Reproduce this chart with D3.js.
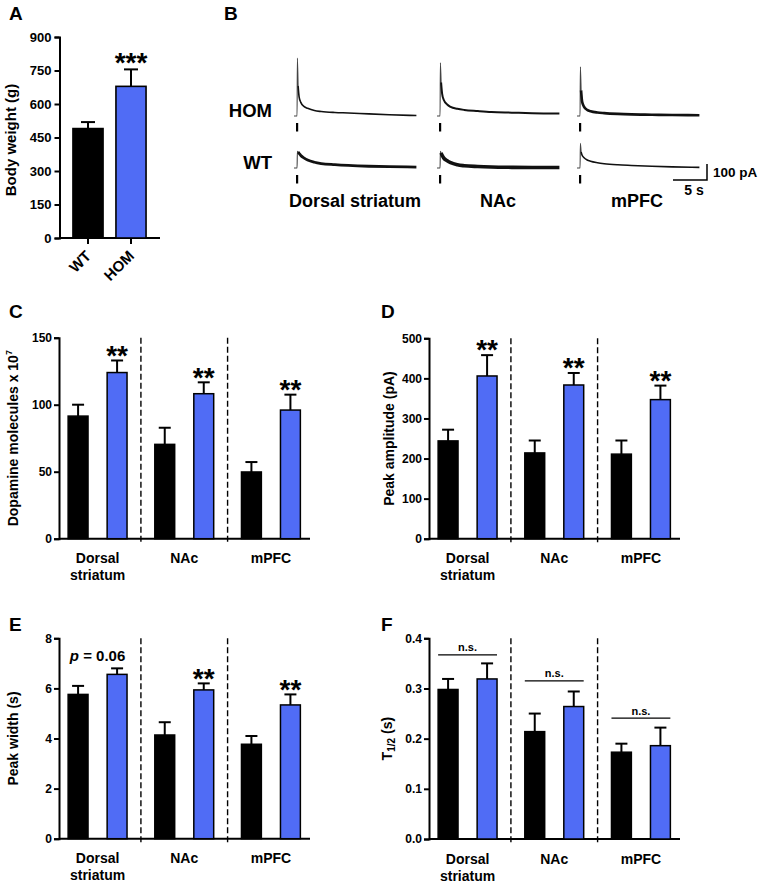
<!DOCTYPE html>
<html><head><meta charset="utf-8">
<script src="https://cdn.jsdelivr.net/npm/d3@7"></script>
<style>
body{margin:0;background:#fff}
text{font-family:"Liberation Sans",Arial,Helvetica,sans-serif;font-weight:bold;fill:#000}
</style></head>
<body><svg id="c" width="763" height="883"></svg>
<script>
// ---------- DATA ----------
const genotypes = ["WT", "HOM"];
const regions = ["Dorsal striatum", "NAc", "mPFC"];
const regionLines = [["Dorsal", "striatum"], ["NAc"], ["mPFC"]];

// Panel A
const bodyWeightMean = [490, 679];
const bodyWeightSem = [29, 76];
const bodyWeightTicks = [0, 150, 300, 450, 600, 750, 900];

// Panel B traces (time s, current pA)
const traceTime = [0, 0.45, 0.5, 0.6, 0.75, 1, 1.5, 2, 3, 4, 6, 8, 11, 14, 18];
const homDS   = [0, 0, 362, 190, 120, 85, 58, 48, 34, 28, 22, 19, 13, 8, 3];
const homNAc  = [0, 0, 333, 210, 140, 100, 72, 57, 45, 38, 31, 25, 21, 17, 15];
const homMPFC = [0, 0, 308, 160, 90, 60, 38, 30, 22, 18, 13, 10, 8, 6, 5];
const wtDS    = [0, 0, 104, 100, 92, 78, 62, 50, 36, 28, 21, 16, 11, 8, 6];
const wtNAc   = [0, 0, 104, 95, 80, 62, 45, 33, 20, 14, 9, 6, 4, 3, 3];
const wtMPFC  = [0, 0, 154, 100, 80, 66, 50, 42, 33, 27, 20, 16, 11, 7, 4];

// Panel C
const dopamineWT = [91.5, 70.4, 49.8];
const dopamineWTsem = [8.5, 12.4, 7.4];
const dopamineHOM = [124, 108.2, 96];
const dopamineHOMsem = [9, 8.5, 11.5];
const dopamineTicks = [0, 50, 100, 150];

// Panel D
const amplitudeWT = [244, 214, 211];
const amplitudeWTsem = [28, 31, 34];
const amplitudeHOM = [406, 383.5, 347];
const amplitudeHOMsem = [52, 30, 35];
const amplitudeTicks = [0, 100, 200, 300, 400, 500];

// Panel E
const widthWT = [5.76, 4.14, 3.77];
const widthWTsem = [0.34, 0.51, 0.33];
const widthHOM = [6.56, 5.94, 5.34];
const widthHOMsem = [0.24, 0.26, 0.42];
const widthTicks = [0, 2, 4, 6, 8];

// Panel F
const halfWT = [0.298, 0.214, 0.173];
const halfWTsem = [0.021, 0.036, 0.017];
const halfHOM = [0.319, 0.264, 0.186];
const halfHOMsem = [0.031, 0.030, 0.036];
const halfTicks = [0, 0.1, 0.2, 0.3, 0.4];
const halfNsLevel = [0.367, 0.315, 0.241];

const sigC = ["**", "**", "**"];
const sigD = ["**", "**", "**"];
const sigE = ["p = 0.06", "**", "**"];

const BLUE = "#506cf5";
const svg = d3.select("#c");
svg.append("rect").attr("width", 763).attr("height", 883).attr("fill", "#fff");

function panelLetter(t, x, y) {
  svg.append("text").attr("x", x).attr("y", y).attr("font-size", 19).text(t);
}
function stars(g, txt, x, yc, fs) {
  g.append("text").attr("x", x).attr("y", yc + fs * 0.58).attr("text-anchor", "middle")
    .attr("font-size", fs).text(txt);
}

// ---------- PANEL A ----------
(function () {
  const g = svg.append("g");
  const y = d3.scaleLinear().domain([0, 900]).range([238, 37]);
  const x = d3.scaleBand().domain(genotypes).range([59, 160]).paddingInner(0.3).paddingOuter(0.3245);
  const ax = g.append("g").attr("transform", "translate(59.5,0)")
    .call(d3.axisLeft(y).tickValues(bodyWeightTicks).tickSize(5).tickPadding(3));
  ax.select(".domain").attr("stroke-width", 2);
  ax.selectAll(".tick line").attr("stroke-width", 2);
  ax.selectAll(".tick text").attr("font-size", 13).attr("font-family", null);
  const bx = g.append("g").attr("transform", "translate(0,238)")
    .call(d3.axisBottom(x).tickSize(6).tickSizeOuter(0).tickFormat(""));
  bx.select(".domain").attr("stroke-width", 2).attr("d", "M59,0H160");
  bx.selectAll(".tick line").attr("stroke-width", 2);
  genotypes.forEach((gname, i) => {
    const cx = x(gname) + x.bandwidth() / 2;
    g.append("text").attr("transform", `translate(${cx + 4},${257}) rotate(-45)`)
      .attr("text-anchor", "end").attr("font-size", 15).text(gname);
    const top = y(bodyWeightMean[i] + bodyWeightSem[i]);
    g.append("line").attr("x1", cx).attr("x2", cx).attr("y1", y(bodyWeightMean[i])).attr("y2", top)
      .attr("stroke", "#000").attr("stroke-width", 2);
    g.append("line").attr("x1", cx - 7).attr("x2", cx + 7).attr("y1", top).attr("y2", top)
      .attr("stroke", "#000").attr("stroke-width", 2);
    g.append("rect").attr("x", x(gname)).attr("width", x.bandwidth())
      .attr("y", y(bodyWeightMean[i])).attr("height", y(0) - y(bodyWeightMean[i]))
      .attr("fill", i ? BLUE : "#000").attr("stroke", "#000").attr("stroke-width", 1.6);
  });
  const hx = x("HOM") + x.bandwidth() / 2;
  stars(g, "***", hx, y(bodyWeightMean[1] + bodyWeightSem[1]) - 14, 28);
  g.append("text").attr("transform", "translate(16,140) rotate(-90)").attr("text-anchor", "middle")
    .attr("font-size", 15).text("Body weight (g)");
  panelLetter("A", 9, 20);
})();

// ---------- PANEL B ----------
(function () {
  const g = svg.append("g");
  panelLetter("B", 224, 20);
  const pxPerS = 6.8, pxPer100pA = 16;
  const rows = [
    { label: "HOM", base: 116, traces: [homDS, homNAc, homMPFC], widths: [1.6, 2.0, 2.6] },
    { label: "WT", base: 168, traces: [wtDS, wtNAc, wtMPFC], widths: [2.8, 3.6, 1.6] }
  ];
  const starts = [294, 437, 577];
  rows.forEach(r => {
    g.append("text").attr("x", 272).attr("y", r.base + 1).attr("text-anchor", "end")
      .attr("font-size", 18.5).text(r.label);
    r.traces.forEach((tr, k) => {
      const x = d3.scaleLinear().domain([0, 18]).range([starts[k], starts[k] + 18 * pxPerS]);
      const y = d3.scaleLinear().domain([0, 100]).range([r.base, r.base - pxPer100pA]);
      const pts = tr.map((v, i) => [x(traceTime[i]), y(v)]);
      const line = d3.line().curve(d3.curveMonotoneX);
      // thin rising spike
      g.append("path").attr("d", line(pts.slice(0, 4))).attr("fill", "none").attr("stroke", "#444")
        .attr("stroke-width", 1.1);
      // decay
      g.append("path").attr("d", line(pts.slice(3))).attr("fill", "none").attr("stroke", "#111")
        .attr("stroke-width", r.widths[k]).attr("stroke-linejoin", "round");
      // stimulus mark
      const sx = Math.round(x(traceTime[2]));
      g.append("rect").attr("x", sx - 1).attr("width", 2.2).attr("y", r.base + 7).attr("height", 8.5)
        .attr("fill", "#000");
    });
  });
  // scale bar
  g.append("path").attr("d", "M673,180H707V164").attr("fill", "none").attr("stroke", "#000").attr("stroke-width", 1.5);
  g.append("text").attr("x", 713).attr("y", 177).attr("font-size", 13.5).text("100 pA");
  g.append("text").attr("x", 694).attr("y", 195).attr("text-anchor", "middle").attr("font-size", 14).text("5 s");
  const labelX = [355, 498, 637];
  regions.forEach((rname, i) => {
    g.append("text").attr("x", labelX[i]).attr("y", 207).attr("text-anchor", "middle")
      .attr("font-size", 18).text(rname);
  });
})();

// ---------- GROUPED BAR PANELS ----------
function groupedPanel(cfg) {
  const g = svg.append("g");
  const y = d3.scaleLinear().domain([0, cfg.max]).range([cfg.y0, cfg.y1]);
  const outer = d3.scaleBand().domain(regions).range([cfg.axisX - 4.75, cfg.axisX + 255.25]);
  const inner = d3.scaleBand().domain(genotypes).range([0, outer.step()]).paddingInner(0.49).paddingOuter(0.356);
  const ax = g.append("g").attr("transform", `translate(${cfg.axisX},0)`)
    .call(d3.axisLeft(y).tickValues(cfg.ticks).tickSize(5).tickPadding(2).tickFormat(cfg.fmt));
  ax.select(".domain").attr("stroke-width", 2);
  ax.selectAll(".tick line").attr("stroke-width", 2);
  ax.selectAll(".tick text").attr("font-size", 12).attr("font-family", null);
  g.append("line").attr("x1", cfg.axisX).attr("x2", cfg.axisX + 251).attr("y1", cfg.y0).attr("y2", cfg.y0)
    .attr("stroke", "#000").attr("stroke-width", 2);
  // dashed separators
  regions.slice(1).forEach(r => {
    const sx = outer(r);
    g.append("line").attr("x1", sx).attr("x2", sx).attr("y1", cfg.y1).attr("y2", cfg.y0 + 4)
      .attr("stroke", "#000").attr("stroke-width", 1.4).attr("stroke-dasharray", "6,3");
  });
  regions.forEach((r, i) => {
    const series = [[cfg.wt[i], cfg.wtSem[i]], [cfg.hom[i], cfg.homSem[i]]];
    series.forEach(([m, s], j) => {
      const bx = outer(r) + inner(genotypes[j]);
      const cx = bx + inner.bandwidth() / 2;
      const top = y(m + s);
      g.append("line").attr("x1", cx).attr("x2", cx).attr("y1", y(m)).attr("y2", top)
        .attr("stroke", "#000").attr("stroke-width", 2);
      g.append("line").attr("x1", cx - 6).attr("x2", cx + 6).attr("y1", top).attr("y2", top)
        .attr("stroke", "#000").attr("stroke-width", 2);
      g.append("rect").attr("x", bx).attr("width", inner.bandwidth()).attr("y", y(m))
        .attr("height", y(0) - y(m)).attr("fill", j ? BLUE : "#000")
        .attr("stroke", "#000").attr("stroke-width", 1.5);
    });
    const gc = outer(r) + outer.step() / 2;
    regionLines[i].forEach((t, k) => {
      g.append("text").attr("x", gc).attr("y", cfg.y0 + 24.5 + k * 17).attr("text-anchor", "middle")
        .attr("font-size", 14).text(t);
    });
    const hc = outer(r) + inner("HOM") + inner.bandwidth() / 2;
    if (cfg.sig) {
      const s = cfg.sig[i];
      if (s === "**") stars(g, s, hc, y(cfg.hom[i] + cfg.homSem[i]) - 12, 28);
      else {
        const t = g.append("text").attr("x", gc).attr("y", y(cfg.hom[i] + cfg.homSem[i]) - 7)
          .attr("text-anchor", "middle").attr("font-size", 15);
        t.append("tspan").attr("font-style", "italic").text("p");
        t.append("tspan").text(" = 0.06");
      }
    }
    if (cfg.ns) {
      const x1 = outer(r) + inner("WT"), x2 = outer(r) + inner("HOM") + inner.bandwidth();
      const ly = y(cfg.ns[i]);
      g.append("line").attr("x1", x1).attr("x2", x2).attr("y1", ly).attr("y2", ly)
        .attr("stroke", "#000").attr("stroke-width", 1.3);
      g.append("text").attr("x", (x1 + x2) / 2).attr("y", ly - 3.5).attr("text-anchor", "middle")
        .attr("font-size", 11).text("n.s.");
    }
  });
  const yl = g.append("text").attr("transform", `translate(${cfg.labelX},${(cfg.y0 + cfg.y1) / 2}) rotate(-90)`)
    .attr("text-anchor", "middle").attr("font-size", 14);
  cfg.label(yl);
  panelLetter(cfg.letter, cfg.letterX, cfg.letterY);
}

groupedPanel({
  letter: "C", letterX: 9, letterY: 318, axisX: 59, y0: 538.7, y1: 337.7, max: 150,
  ticks: dopamineTicks, fmt: d3.format("d"),
  wt: dopamineWT, wtSem: dopamineWTsem, hom: dopamineHOM, homSem: dopamineHOMsem, sig: sigC,
  labelX: 18,
  label: t => { t.append("tspan").text("Dopamine molecules x 10"); t.append("tspan").attr("font-size", 9).attr("dy", -6).text("7"); }
});
groupedPanel({
  letter: "D", letterX: 381, letterY: 318, axisX: 429, y0: 538.7, y1: 338.3, max: 500,
  ticks: amplitudeTicks, fmt: d3.format("d"),
  wt: amplitudeWT, wtSem: amplitudeWTsem, hom: amplitudeHOM, homSem: amplitudeHOMsem, sig: sigD,
  labelX: 394,
  label: t => t.text("Peak amplitude (pA)")
});
groupedPanel({
  letter: "E", letterX: 9, letterY: 631, axisX: 59, y0: 838.7, y1: 638.3, max: 8,
  ticks: widthTicks, fmt: d3.format("d"),
  wt: widthWT, wtSem: widthWTsem, hom: widthHOM, homSem: widthHOMsem, sig: sigE,
  labelX: 18,
  label: t => t.text("Peak width (s)")
});
groupedPanel({
  letter: "F", letterX: 381, letterY: 631, axisX: 429, y0: 839, y1: 638.3, max: 0.4,
  ticks: halfTicks, fmt: d3.format(".1f"),
  wt: halfWT, wtSem: halfWTsem, hom: halfHOM, homSem: halfHOMsem, ns: halfNsLevel,
  labelX: 392,
  label: t => { t.append("tspan").text("T"); t.append("tspan").attr("font-size", 10).attr("dy", 3).text("1/2"); t.append("tspan").attr("dy", -3).text(" (s)"); }
});
</script></body></html>
